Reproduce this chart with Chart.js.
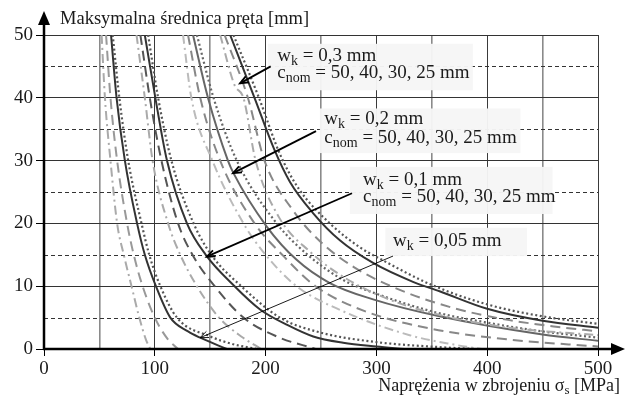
<!DOCTYPE html>
<html>
<head>
<meta charset="utf-8">
<script src="https://cdn.jsdelivr.net/npm/chart.js@4.4.0/dist/chart.umd.min.js"></script>
<style>
  html, body { margin: 0; padding: 0; background: #fff; }
</style>
</head>
<body>
<canvas id="chart" width="628" height="399"></canvas>
<script>
// crack width limits and nominal covers
const wkLabels = ['0,3', '0,2', '0,1', '0,05'];
const cnomValues = [50, 40, 30, 25];

// curves: [stress sigma_s MPa, max bar diameter mm]
const w03_c50 = [[159,50],[172,42],[180,40],[191,30],[212,21],[240,15.5],[270,11.5],[310,8],[360,5.3],[420,3.4],[500,2.2]];
const w03_c40 = [[163,50],[184,40],[199,30],[225,22],[250,17],[280,13],[320,9.5],[370,6.5],[420,4.6],[460,3.6],[500,2.8]];
const w03_c30 = [[168,50],[190,40],[208,31.7],[222,26.6],[243,21.6],[267,17.3],[297,13.7],[333,10.7],[357,9.2],[400,6.4],[450,4.5],[500,3.4]];
const w03_c25 = [[171,50],[194,40],[213,31],[230,25.5],[258,20],[285,16.2],[305,14.2],[350,10.2],[400,7.1],[450,5.2],[500,4.0]];

const w02_c50 = [[125.5,50],[133,40],[152,30],[180,20],[200,15],[228,10],[270,6],[330,2.2],[370,0.7],[395,0]];
const w02_c40 = [[130,50],[141,40],[159,30],[190,20],[215,15],[245,10],[290,6],[350,3.2],[420,1.5],[500,0.4]];
const w02_c30 = [[134.5,50],[148,40],[166,30],[171,28],[201,19.5],[228,14.2],[258,10.5],[297,7.9],[357,5.2],[450,2.3],[500,1.3]];
const w02_c25 = [[138,50],[153,40],[174,30],[210,20],[238,15],[270,11],[300,8.8],[350,6],[400,4.2],[450,2.8],[500,1.8]];

const w01_c50 = [[83.5,50],[91,40],[98,30],[112,20],[123,15],[138,10],[158,5],[178,2],[196,0]];
const w01_c40 = [[87,50],[95.5,40],[106,30],[121,20],[134,15],[154,10],[180,5],[210,2],[245,0]];
const w01_c30 = [[91,50],[100.5,40],[111,30],[129,20],[146,15],[172,10],[195,6.3],[220,3.8],[243,2],[270,1],[300,0.4],[325,0]];
const w01_c25 = [[94,50],[103,40],[115,30],[135,20],[151,15],[178,10],[213,5],[250,2.6],[300,1.1],[357,0.3],[390,0]];

const w005_c50 = [[52,50],[55,40],[60,30],[66,20],[72,15],[79,10],[86,5],[92,1.5],[96,0]];
const w005_c40 = [[56,50],[60,40],[66,30],[75,20],[81,15],[89,10],[100,5],[112,1.5],[121,0]];
const w005_c30 = [[60.5,50],[65.5,40],[73,30],[84,20],[91,15],[101,10],[114,5],[130,2.8],[141,1.8],[165,0]];
const w005_c25 = [[62,50],[68,40],[76,30],[88,20],[95,15],[105,10],[120,5],[150,2],[170,0.8],[192,0]];

const curves = [
  [w03_c50, w03_c40, w03_c30, w03_c25],
  [w02_c50, w02_c40, w02_c30, w02_c25],
  [w01_c50, w01_c40, w01_c30, w01_c25],
  [w005_c50, w005_c40, w005_c30, w005_c25]
];

const xTicks = [0, 100, 200, 300, 400, 500];
const yTicks = [0, 10, 20, 30, 40, 50];
const yMinor = [5, 15, 25, 35, 45];

// line styles by cover (50, 40, 30, 25) and colour by group
const dashes = [[9, 4, 2, 4], [10, 6], [], [2, 2.6]];
const groupColors = [
  ['#aaaaaa', '#888888', '#333333', '#555555'],
  ['#bbbbbb', '#888888', '#666666', '#666666'],
  ['#aaaaaa', '#555555', '#333333', '#555555'],
  ['#aaaaaa', '#999999', '#333333', '#555555']
];

const datasets = [];
curves.forEach((group, g) => {
  group.forEach((pts, c) => {
    datasets.push({
      label: 'wk=' + wkLabels[g] + ' cnom=' + cnomValues[c],
      data: pts.map(p => ({ x: p[0], y: p[1] })),
      borderColor: groupColors[g][c],
      borderWidth: c === 3 ? 2.2 : 2,
      borderDash: dashes[c],
      pointRadius: 0,
      cubicInterpolationMode: 'monotone',
      fill: false
    });
  });
});

const FONT = '"Liberation Serif", "Times New Roman", serif';

// label boxes and arrows, in data coordinates
const boxes = [
  { x0: 202, x1: 387, y0: 48.6, y1: 41.2, tx: 210.5, lines: [[46.7, 'w', 'k', ' = 0,3 mm'], [43.9, 'c', 'nom', ' = 50, 40, 30, 25 mm']] },
  { x0: 249, x1: 430, y0: 38.3, y1: 31.2, tx: 253, lines: [[36.6, 'w', 'k', ' = 0,2 mm'], [33.6, 'c', 'nom', ' = 50, 40, 30, 25 mm']] },
  { x0: 276, x1: 459, y0: 29.0, y1: 21.5, tx: 288, lines: [[26.9, 'w', 'k', ' = 0,1 mm'], [24.2, 'c', 'nom', ' = 50, 40, 30, 25 mm']] },
  { x0: 308, x1: 436, y0: 19.3, y1: 14.8, tx: 315, lines: [[17.2, 'w', 'k', ' = 0,05 mm']] }
];
const arrows = [
  { from: [204.6, 45.0], to: [176.9, 42.3], w: 1.8 },
  { from: [245.5, 34.7], to: [170.6, 28.0], w: 1.8 },
  { from: [278, 24.8], to: [146.8, 14.7], w: 1.8 },
  { from: [315, 14.8], to: [140.8, 1.8], w: 0.9 }
];

function subText(ctx, x, y, main, sub, rest, size) {
  ctx.font = size + 'px ' + FONT;
  ctx.fillText(main, x, y);
  x += ctx.measureText(main).width;
  ctx.font = Math.round(size * 0.72) + 'px ' + FONT;
  ctx.fillText(sub, x, y + size * 0.28);
  x += ctx.measureText(sub).width;
  ctx.font = size + 'px ' + FONT;
  ctx.fillText(rest, x, y);
  return x + ctx.measureText(rest).width;
}

const decor = {
  id: 'decor',
  beforeDatasetsDraw(chart) {
    const { ctx, chartArea: a, scales: { y } } = chart;
    ctx.save();
    ctx.strokeStyle = '#333';
    ctx.lineWidth = 1;
    ctx.setLineDash([4, 3]);
    yMinor.forEach(v => {
      const py = Math.round(y.getPixelForValue(v)) + 0.5;
      ctx.beginPath();
      ctx.moveTo(a.left, py);
      ctx.lineTo(a.right, py);
      ctx.stroke();
    });
    ctx.restore();
  },
  afterDatasetsDraw(chart) {
    const { ctx, scales: { x, y } } = chart;
    ctx.save();
    boxes.forEach(b => {
      const px0 = x.getPixelForValue(b.x0), px1 = x.getPixelForValue(b.x1);
      const py0 = y.getPixelForValue(b.y0), py1 = y.getPixelForValue(b.y1);
      ctx.fillStyle = 'rgba(246,246,246,0.96)';
      ctx.fillRect(px0, py0, px1 - px0, py1 - py0);
      ctx.fillStyle = '#1a1a1a';
      ctx.textBaseline = 'middle';
      ctx.textAlign = 'left';
      b.lines.forEach(l => {
        subText(ctx, x.getPixelForValue(b.tx), y.getPixelForValue(l[0]), l[1], l[2], l[3], 19);
      });
    });
    arrows.forEach(ar => {
      const x0 = x.getPixelForValue(ar.from[0]), y0 = y.getPixelForValue(ar.from[1]);
      const x1 = x.getPixelForValue(ar.to[0]), y1 = y.getPixelForValue(ar.to[1]);
      const ang = Math.atan2(y1 - y0, x1 - x0);
      ctx.strokeStyle = '#000';
      ctx.lineWidth = ar.w;
      ctx.beginPath();
      ctx.moveTo(x0, y0);
      ctx.lineTo(x1, y1);
      ctx.stroke();
      const L = 9, s = 0.38;
      ctx.beginPath();
      ctx.moveTo(x1 - L * Math.cos(ang - s), y1 - L * Math.sin(ang - s));
      ctx.lineTo(x1, y1);
      ctx.lineTo(x1 - L * Math.cos(ang + s), y1 - L * Math.sin(ang + s));
      ctx.stroke();
    });
    ctx.restore();
  },
  afterDraw(chart) {
    const { ctx, chartArea: a } = chart;
    ctx.save();
    ctx.strokeStyle = '#000';
    ctx.fillStyle = '#000';
    ctx.lineWidth = 2.5;
    // y axis with arrow
    ctx.beginPath();
    ctx.moveTo(a.left, a.bottom + 1);
    ctx.lineTo(a.left, 24);
    ctx.stroke();
    ctx.beginPath();
    ctx.moveTo(a.left, 11);
    ctx.lineTo(a.left - 6, 25);
    ctx.lineTo(a.left + 6, 25);
    ctx.closePath();
    ctx.fill();
    // x axis with arrow
    ctx.beginPath();
    ctx.moveTo(a.left - 1, a.bottom);
    ctx.lineTo(612, a.bottom);
    ctx.stroke();
    ctx.beginPath();
    ctx.moveTo(625, a.bottom);
    ctx.lineTo(611, a.bottom - 6);
    ctx.lineTo(611, a.bottom + 6);
    ctx.closePath();
    ctx.fill();
    // axis titles
    ctx.fillStyle = '#1a1a1a';
    ctx.textBaseline = 'alphabetic';
    ctx.textAlign = 'left';
    ctx.font = '18.5px ' + FONT;
    ctx.fillText('Maksymalna średnica pręta [mm]', 60, 24);
    // x title right-aligned
    ctx.font = '18px ' + FONT;
    const t1 = 'Naprężenia w zbrojeniu σ', t3 = ' [MPa]';
    const w1 = ctx.measureText(t1).width, w3 = ctx.measureText(t3).width;
    ctx.font = '13px ' + FONT;
    const w2 = ctx.measureText('s').width;
    const sx = 620 - (w1 + w2 + w3);
    ctx.textBaseline = 'middle';
    subText(ctx, sx, 386, t1, 's', t3, 18);
    ctx.restore();
  }
};

new Chart(document.getElementById('chart'), {
  type: 'line',
  data: { datasets },
  options: {
    responsive: false,
    animation: false,
    devicePixelRatio: 1,
    layout: { padding: { top: 35, right: 30, left: 0, bottom: 0 } },
    plugins: { legend: { display: false }, tooltip: { enabled: false } },
    scales: {
      x: {
        type: 'linear',
        min: 0,
        max: 500,
        afterFit: s => { s.height = 50; },
        afterBuildTicks: s => {
          s.ticks = [];
          for (let v = 0; v <= 500; v += 50) s.ticks.push({ value: v });
        },
        border: { display: false },
        grid: {
          color: c => (c.tick && c.tick.value % 100 === 0) ? '#3a3a3a' : '#8a8a8a',
          lineWidth: c => (c.tick && c.tick.value % 100 === 0) ? 1 : 1.6,
          tickColor: c => (c.tick && c.tick.value % 100 === 0) ? '#000' : 'rgba(0,0,0,0)',
          tickLength: 7
        },
        ticks: {
          autoSkip: false,
          maxRotation: 0,
          padding: 2,
          color: '#1a1a1a',
          font: { family: FONT, size: 19 },
          callback: v => xTicks.includes(v) ? String(v) : ''
        }
      },
      y: {
        min: 0,
        max: 50,
        afterFit: s => { s.width = 44; },
        afterBuildTicks: s => { s.ticks = yTicks.map(v => ({ value: v })); },
        border: { display: false },
        grid: { color: '#333', lineWidth: 1, tickColor: '#000', tickLength: 8 },
        ticks: {
          padding: 3,
          color: '#1a1a1a',
          font: { family: FONT, size: 19 }
        }
      }
    }
  },
  plugins: [decor]
});
</script>
</body>
</html>
